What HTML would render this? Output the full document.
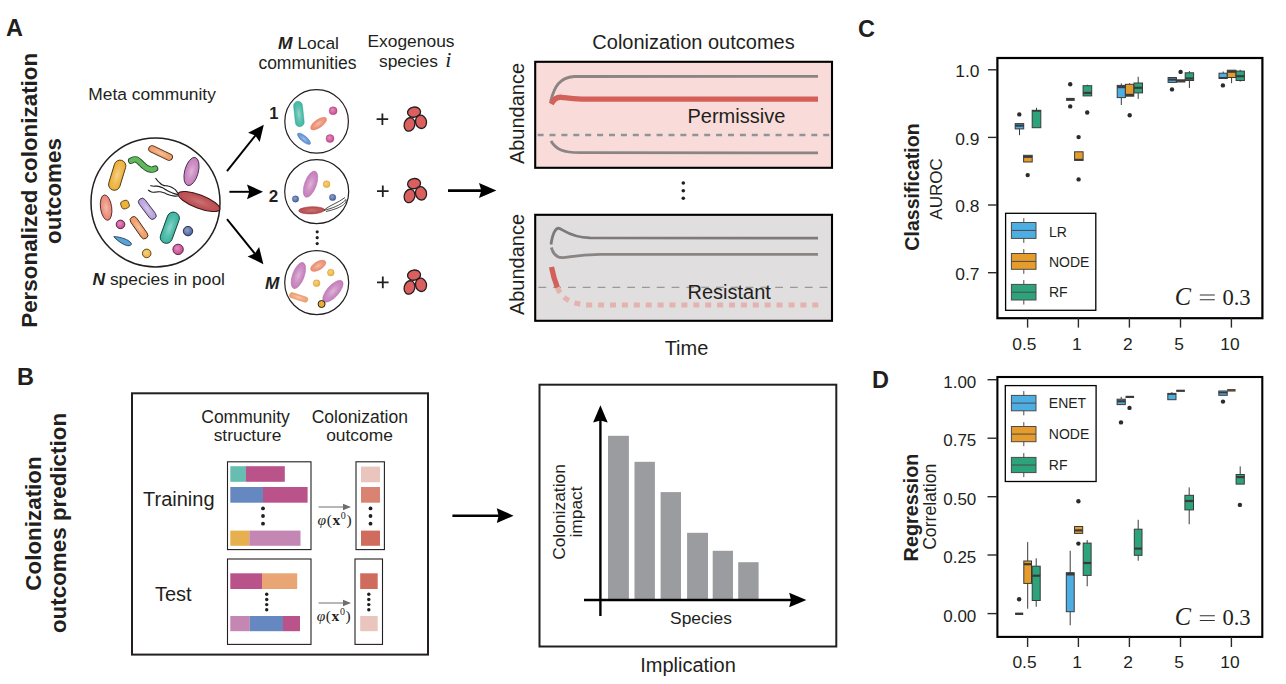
<!DOCTYPE html>
<html>
<head>
<meta charset="utf-8">
<title>Figure</title>
<style>
html,body{margin:0;padding:0;background:#fff;}
body{width:1286px;height:684px;overflow:hidden;font-family:"Liberation Sans",sans-serif;}
svg{display:block;}
text{font-family:"Liberation Sans",sans-serif;fill:#231f20;}
.b{font-weight:bold;}
.bi{font-weight:bold;font-style:italic;}
.ser{font-family:"Liberation Serif",serif;}
.t20{font-size:20px;}
.t17{font-size:17.4px;}
</style>
</head>
<body>
<svg width="1286" height="684" viewBox="0 0 1286 684">
<defs>
  <radialGradient id="hl" cx="0.5" cy="0.5" r="0.5"><stop offset="0" stop-color="#fff" stop-opacity="0.85"/><stop offset="0.55" stop-color="#fff" stop-opacity="0.3"/><stop offset="1" stop-color="#fff" stop-opacity="0"/></radialGradient>
  <radialGradient id="hr" cx="0.42" cy="0.4" r="0.6"><stop offset="0" stop-color="#fff" stop-opacity="0.9"/><stop offset="1" stop-color="#fff" stop-opacity="0"/></radialGradient>
</defs>
<rect width="1286" height="684" fill="#fff"/>
<g id="labels">
<text x="6" y="36" class="b" font-size="23.5">A</text>
<text x="17" y="385" class="b" font-size="23.5">B</text>
<text x="858" y="36.8" class="b" font-size="23.5">C</text>
<text x="872" y="388" class="b" font-size="23.5">D</text>
<text transform="translate(37,190.3) rotate(-90)" text-anchor="middle" class="b" font-size="22.4">Personalized colonization</text>
<text transform="translate(61,191) rotate(-90)" text-anchor="middle" class="b" font-size="22.4">outcomes</text>
<text transform="translate(40.5,523.5) rotate(-90)" text-anchor="middle" class="b" font-size="22.4">Colonization</text>
<text transform="translate(66,523) rotate(-90)" text-anchor="middle" class="b" font-size="22.4">outcomes prediction</text>
</g>
<g id="panelA">
<text x="88.3" y="100" class="t17">Meta community</text>
<text x="92.5" y="284.8" class="t17"><tspan class="bi">N</tspan> species in pool</text>
<text x="308.5" y="49" text-anchor="middle" class="t17"><tspan class="bi">M</tspan> Local</text>
<text x="307.5" y="69" text-anchor="middle" font-size="17.5">communities</text>
<text x="411" y="47" text-anchor="middle" class="t17">Exogenous</text>
<text x="379" y="67" class="t17">species <tspan class="ser" font-style="italic" font-size="22" dx="2.5">i</tspan></text>
<circle cx="155.5" cy="202.4" r="64.5" fill="#fff" stroke="#231f20" stroke-width="1.5"/>
<g transform="translate(160.6,153) rotate(25.5)"><rect x="-12.80" y="-3.30" width="25.60" height="6.60" rx="3.30" fill="#ef9a63"/><rect x="-12.80" y="-3.30" width="25.60" height="6.60" rx="3.30" fill="url(#hl)" opacity="0.5"/><rect x="-12.80" y="-3.30" width="25.60" height="6.60" rx="3.30" fill="none" stroke="#4a2d1c" stroke-width="0.9"/></g>
<path d="M131.2,160.7 C131.6,160.5 132.7,159.7 133.6,159.5 C134.5,159.3 135.5,159.3 136.4,159.6 C137.3,159.9 138.1,160.7 139.0,161.4 C139.9,162.1 140.8,163.1 141.7,163.9 C142.6,164.7 143.4,165.6 144.3,166.3 C145.2,167.0 146.0,167.6 146.9,168.1 C147.8,168.6 148.7,169.1 149.6,169.3 C150.5,169.6 151.4,169.7 152.3,169.6 C153.2,169.5 154.6,168.8 155.1,168.6" fill="none" stroke="#20472a" stroke-width="6.4" stroke-linecap="round"/><path d="M131.2,160.7 C131.6,160.5 132.7,159.7 133.6,159.5 C134.5,159.3 135.5,159.3 136.4,159.6 C137.3,159.9 138.1,160.7 139.0,161.4 C139.9,162.1 140.8,163.1 141.7,163.9 C142.6,164.7 143.4,165.6 144.3,166.3 C145.2,167.0 146.0,167.6 146.9,168.1 C147.8,168.6 148.7,169.1 149.6,169.3 C150.5,169.6 151.4,169.7 152.3,169.6 C153.2,169.5 154.6,168.8 155.1,168.6" fill="none" stroke="#62b75c" stroke-width="4.7" stroke-linecap="round"/>
<g transform="translate(117.2,175.2) rotate(-73)"><rect x="-15.50" y="-5.80" width="31.00" height="11.60" rx="5.80" fill="#eeb13a"/><rect x="-15.50" y="-5.80" width="31.00" height="11.60" rx="5.80" fill="url(#hl)" opacity="0.5"/><rect x="-15.50" y="-5.80" width="31.00" height="11.60" rx="5.80" fill="none" stroke="#4d3a14" stroke-width="0.9"/></g>
<g transform="translate(191.5,171.5) rotate(-75)"><ellipse rx="14.50" ry="6.80" fill="#c57dbb"/><ellipse rx="14.50" ry="6.80" fill="url(#hl)" opacity="0.5"/><ellipse rx="14.50" ry="6.80" fill="none" stroke="#47304a" stroke-width="0.9"/></g>
<g transform="translate(106.1,207.6) rotate(82)"><ellipse rx="12.80" ry="5.60" fill="#ea8673"/><ellipse rx="12.80" ry="5.60" fill="url(#hl)" opacity="0.5"/><ellipse rx="12.80" ry="5.60" fill="none" stroke="#4f2a24" stroke-width="0.9"/></g>
<g transform="translate(125,204.6) rotate(-22)"><rect x="-4" y="-4" width="8" height="8" rx="2.6" fill="#eeb13a" stroke="#4d3a14" stroke-width="0.8"/></g>
<g transform="translate(147.3,208.8) rotate(53)"><rect x="-12.25" y="-3.70" width="24.50" height="7.40" rx="3.70" fill="#b9a1d9"/><rect x="-12.25" y="-3.70" width="24.50" height="7.40" rx="3.70" fill="url(#hl)" opacity="0.5"/><rect x="-12.25" y="-3.70" width="24.50" height="7.40" rx="3.70" fill="none" stroke="#3f3756" stroke-width="0.9"/></g>
<g fill="none" stroke="#231f20" stroke-width="1.1"><path d="M155.5,178.2 C155.8,178.6 156.9,180.0 157.6,180.8 C158.3,181.6 159.2,182.3 159.9,183.0 C160.6,183.7 161.3,184.4 162.0,184.8 C162.7,185.2 163.5,185.4 164.3,185.6 C165.1,185.8 166.1,185.8 167.0,185.9 C167.9,186.1 168.7,186.2 169.6,186.5 C170.5,186.8 171.6,187.3 172.5,187.8 C173.4,188.3 174.0,188.4 175.0,189.4 C176.0,190.4 177.9,193.2 178.5,194.0"/><path d="M150.3,185.6 C150.8,185.7 152.3,186.1 153.3,186.2 C154.3,186.3 155.4,186.0 156.4,186.1 C157.4,186.2 158.5,186.3 159.5,186.6 C160.5,186.9 161.4,187.3 162.5,187.8 C163.6,188.3 164.8,189.1 166.0,189.8 C167.2,190.5 168.5,191.3 169.6,191.8 C170.7,192.3 171.5,192.7 172.4,193.0 C173.3,193.3 174.0,193.6 175.0,193.9 C176.0,194.2 177.9,194.8 178.5,195.0"/><path d="M148.1,190.0 C148.5,190.2 149.6,191.1 150.4,191.5 C151.2,191.9 151.9,192.1 152.9,192.2 C153.9,192.3 155.2,192.1 156.4,192.0 C157.6,191.9 158.6,191.7 159.9,191.8 C161.2,191.9 162.7,192.4 164.0,192.8 C165.3,193.2 166.6,194.0 167.8,194.4 C169.1,194.8 170.3,195.2 171.5,195.5 C172.7,195.8 173.8,196.0 175.0,196.1 C176.2,196.2 177.9,196.0 178.5,196.0"/></g>
<g transform="translate(199,201.5) rotate(21)"><ellipse rx="22.20" ry="6.60" fill="#bb4c4f"/><ellipse rx="22.20" ry="6.60" fill="url(#hl)" opacity="0.25"/><ellipse rx="22.20" ry="6.60" fill="none" stroke="#3e1517" stroke-width="1.0"/></g>
<circle cx="120.5" cy="224.4" r="4.3" fill="#c9468f"/><circle cx="120.5" cy="224.4" r="4.3" fill="url(#hr)" opacity="0.45"/><circle cx="120.5" cy="224.4" r="4.3" fill="none" stroke="#4a1a36" stroke-width="0.9"/>
<g transform="translate(139,227.7) rotate(55)"><rect x="-12.75" y="-3.60" width="25.50" height="7.20" rx="3.60" fill="#ef9a63"/><rect x="-12.75" y="-3.60" width="25.50" height="7.20" rx="3.60" fill="url(#hl)" opacity="0.5"/><rect x="-12.75" y="-3.60" width="25.50" height="7.20" rx="3.60" fill="none" stroke="#4a2d1c" stroke-width="0.9"/></g>
<g transform="translate(169.8,227.7) rotate(-70)"><rect x="-16.25" y="-6.10" width="32.50" height="12.20" rx="6.10" fill="#3db6a1"/><rect x="-16.25" y="-6.10" width="32.50" height="12.20" rx="6.10" fill="url(#hl)" opacity="0.5"/><rect x="-16.25" y="-6.10" width="32.50" height="12.20" rx="6.10" fill="none" stroke="#143f38" stroke-width="0.9"/></g>
<circle cx="188" cy="231.1" r="4.7" fill="#46609f"/><circle cx="188" cy="231.1" r="4.7" fill="url(#hr)" opacity="0.45"/><circle cx="188" cy="231.1" r="4.7" fill="none" stroke="#1b2540" stroke-width="0.9"/>
<g transform="translate(122.5,240.9) rotate(19)"><path d="M-9.6,-1.2 C-4,-3.2 6,-3.4 9,-0.6 C10.5,1.2 8,3.2 4,3 C-1,2.6 -6,1 -9.6,-1.2 Z" fill="#5aa2da" stroke="#1e3a52" stroke-width="0.8"/></g>
<circle cx="178.1" cy="249.4" r="5.2" fill="#c9468f"/><circle cx="178.1" cy="249.4" r="5.2" fill="url(#hr)" opacity="0.45"/><circle cx="178.1" cy="249.4" r="5.2" fill="none" stroke="#4a1a36" stroke-width="0.9"/>
<circle cx="146.7" cy="253.4" r="4.3" fill="#eeb13a"/><circle cx="146.7" cy="253.4" r="4.3" fill="url(#hr)" opacity="0.45"/><circle cx="146.7" cy="253.4" r="4.3" fill="none" stroke="#4d3a14" stroke-width="0.9"/>
<line x1="227.0" y1="171.2" x2="255.9" y2="134.8" stroke="#000" stroke-width="1.95"/><path d="M263.8,124.8 L259.7,141.9 L255.3,135.5 L248.1,132.7 Z" fill="#000"/>
<line x1="229.4" y1="191.8" x2="250.3" y2="191.8" stroke="#000" stroke-width="1.95"/><path d="M263.0,191.8 L247.0,199.2 L249.3,191.8 L247.0,184.4 Z" fill="#000"/>
<line x1="227.0" y1="219.2" x2="255.4" y2="254.3" stroke="#000" stroke-width="1.95"/><path d="M263.4,264.2 L247.6,256.4 L254.8,253.5 L259.1,247.1 Z" fill="#000"/>
<text x="269.3" y="118.6" class="b" font-size="16.5">1</text>
<text x="268.8" y="201.8" class="b" font-size="17">2</text>
<text x="265" y="289.3" class="bi" font-size="17.2">M</text>
<circle cx="316.6" cy="121.4" r="31.8" fill="#fff" stroke="#231f20" stroke-width="1.2"/>
<g transform="translate(298.9,114) rotate(84)"><rect x="-12.80" y="-4.45" width="25.60" height="8.90" rx="4.45" fill="#45b8a5"/><rect x="-12.80" y="-4.45" width="25.60" height="8.90" rx="4.45" fill="url(#hl)" opacity="0.5"/><rect x="-12.80" y="-4.45" width="25.60" height="8.90" rx="4.45" fill="none" stroke="#2b9a87" stroke-width="0.4"/></g>
<g transform="translate(318.6,123.6) rotate(-35)"><ellipse rx="9.40" ry="4.00" fill="#ee8a6c"/><ellipse rx="9.40" ry="4.00" fill="url(#hl)" opacity="0.5"/><ellipse rx="9.40" ry="4.00" fill="none" stroke="#d2735a" stroke-width="0.4"/></g>
<g transform="translate(304,138.8) rotate(40)"><ellipse rx="8.20" ry="2.90" fill="#5b8fd4"/><ellipse rx="8.20" ry="2.90" fill="url(#hl)" opacity="0.5"/><ellipse rx="8.20" ry="2.90" fill="none" stroke="#4274b5" stroke-width="0.4"/></g>
<circle cx="333.1" cy="110.8" r="4" fill="#c9468f"/><circle cx="333.1" cy="110.8" r="4" fill="url(#hr)" opacity="0.45"/><circle cx="333.1" cy="110.8" r="4" fill="none" stroke="#a53a78" stroke-width="0.4"/>
<circle cx="330" cy="138.6" r="4" fill="#c9468f"/><circle cx="330" cy="138.6" r="4" fill="url(#hr)" opacity="0.45"/><circle cx="330" cy="138.6" r="4" fill="none" stroke="#a53a78" stroke-width="0.4"/>
<circle cx="316.7" cy="191.6" r="32" fill="#fff" stroke="#231f20" stroke-width="1.2"/>
<g transform="translate(310.5,184.2) rotate(-70)"><ellipse rx="13.80" ry="5.90" fill="#c57dbb"/><ellipse rx="13.80" ry="5.90" fill="url(#hl)" opacity="0.5"/><ellipse rx="13.80" ry="5.90" fill="none" stroke="#a865a3" stroke-width="0.4"/></g>
<circle cx="326.6" cy="184.2" r="3.4" fill="#eeb13a"/><circle cx="326.6" cy="184.2" r="3.4" fill="url(#hr)" opacity="0.45"/><circle cx="326.6" cy="184.2" r="3.4" fill="none" stroke="#c9962a" stroke-width="0.4"/>
<circle cx="295.5" cy="199" r="3.2" fill="#46609f"/><circle cx="295.5" cy="199" r="3.2" fill="url(#hr)" opacity="0.45"/><circle cx="295.5" cy="199" r="3.2" fill="none" stroke="#3a5190" stroke-width="0.4"/>
<circle cx="332.6" cy="197.4" r="3.2" fill="#46609f"/><circle cx="332.6" cy="197.4" r="3.2" fill="url(#hr)" opacity="0.45"/><circle cx="332.6" cy="197.4" r="3.2" fill="none" stroke="#3a5190" stroke-width="0.4"/>
<g transform="translate(311.6,210.3) rotate(-2)"><ellipse rx="12.90" ry="3.60" fill="#bb4c4f"/><ellipse rx="12.90" ry="3.60" fill="url(#hl)" opacity="0.25"/><ellipse rx="12.90" ry="3.60" fill="none" stroke="#8e3534" stroke-width="0.5"/></g>
<g fill="none" stroke="#231f20" stroke-width="0.8">
<path d="M324,210 C330,205 338,203 345,197.5"/>
<path d="M324,210.5 C332,208 340,206 346,199.5 C347,203 342,208 326,211.5"/>
</g>
<g fill="#231f20"><circle cx="317.2" cy="231.8" r="1.6"/><circle cx="317.2" cy="237.7" r="1.6"/><circle cx="317.2" cy="243.6" r="1.6"/></g>
<circle cx="316.7" cy="282.6" r="32" fill="#fff" stroke="#231f20" stroke-width="1.2"/>
<g transform="translate(298.4,275.5) rotate(-70)"><ellipse rx="13.80" ry="5.90" fill="#c57dbb"/><ellipse rx="13.80" ry="5.90" fill="url(#hl)" opacity="0.5"/><ellipse rx="13.80" ry="5.90" fill="none" stroke="#a865a3" stroke-width="0.4"/></g>
<g transform="translate(318.2,265.8) rotate(-30)"><ellipse rx="8.50" ry="4.20" fill="#ee8a6c"/><ellipse rx="8.50" ry="4.20" fill="url(#hl)" opacity="0.5"/><ellipse rx="8.50" ry="4.20" fill="none" stroke="#d2735a" stroke-width="0.4"/></g>
<circle cx="330.8" cy="272.6" r="3.4" fill="#eeb13a"/><circle cx="330.8" cy="272.6" r="3.4" fill="url(#hr)" opacity="0.45"/><circle cx="330.8" cy="272.6" r="3.4" fill="none" stroke="#c9962a" stroke-width="0.4"/>
<circle cx="316.6" cy="283.2" r="3.4" fill="#eeb13a"/><circle cx="316.6" cy="283.2" r="3.4" fill="url(#hr)" opacity="0.45"/><circle cx="316.6" cy="283.2" r="3.4" fill="none" stroke="#c9962a" stroke-width="0.4"/>
<g transform="translate(332.9,291.3) rotate(-48)"><ellipse rx="13.80" ry="5.90" fill="#c57dbb"/><ellipse rx="13.80" ry="5.90" fill="url(#hl)" opacity="0.5"/><ellipse rx="13.80" ry="5.90" fill="none" stroke="#a865a3" stroke-width="0.4"/></g>
<g transform="translate(298.7,297.4) rotate(18)"><rect x="-9.50" y="-2.70" width="19.00" height="5.40" rx="2.70" fill="#f2a06e"/><rect x="-9.50" y="-2.70" width="19.00" height="5.40" rx="2.70" fill="url(#hl)" opacity="0.5"/><rect x="-9.50" y="-2.70" width="19.00" height="5.40" rx="2.70" fill="none" stroke="#d2855a" stroke-width="0.4"/></g>
<circle cx="321.6" cy="304" r="3.5" fill="#eab02f" stroke="#231f20" stroke-width="1"/>
<g stroke="#231f20" stroke-width="1.8">
<path d="M376.6,119.2 h11.6 M382.4,113.4 v11.6"/>
<path d="M377,191.2 h11.6 M382.8,185.4 v11.6"/>
<path d="M377,282.4 h11.6 M382.8,276.6 v11.6"/>
</g>
<g id="exo" fill="#da5f5e" stroke="#231f20" stroke-width="1.3">
<ellipse cx="414.1" cy="112.1" rx="6.5" ry="5.1" transform="rotate(-8 414.3 112.4)"/>
<ellipse cx="409.6" cy="124.6" rx="5.3" ry="6.8" transform="rotate(15 410 124.2)"/>
<ellipse cx="421" cy="121.9" rx="5.5" ry="6.7" transform="rotate(-12 420.8 121.8)"/>
</g>
<use href="#exo" y="71.5"/>
<use href="#exo" y="163"/>

<line x1="448.0" y1="190.6" x2="482.3" y2="190.6" stroke="#000" stroke-width="2.8"/><path d="M496.4,190.6 L479.0,198.1 L481.3,190.6 L479.0,183.1 Z" fill="#000"/>
</g>
<g id="outcomes">
<text x="693.5" y="48.5" text-anchor="middle" class="t20">Colonization outcomes</text>
<text transform="translate(524,113.5) rotate(-90)" text-anchor="middle" class="t20">Abundance</text>
<text transform="translate(524,264.5) rotate(-90)" text-anchor="middle" class="t20">Abundance</text>
<text x="686.5" y="354.5" text-anchor="middle" class="t20">Time</text>

<!-- permissive -->
<rect x="535.2" y="61.8" width="296.8" height="106" fill="#f9dcda" stroke="#000" stroke-width="2.1"/>
<line x1="537.6" y1="135" x2="831" y2="135" stroke="#8f9596" stroke-width="2.4" stroke-dasharray="6,5.9"/>
<path d="M550.6,101.5 C554.5,86 560,77.4 574,76.5 L818,76.3" fill="none" stroke="#8a8583" stroke-width="2.8"/>
<path d="M551,141 C556,149.5 563,152.4 580,152.7 L818,152.8" fill="none" stroke="#8a8583" stroke-width="2.8"/>
<path d="M551.2,104 C553.5,99.5 557,96.6 562,97.3 S572,99 582,99.1 L818,99.1" fill="none" stroke="#d4605a" stroke-width="5.4"/>
<text x="687.5" y="122.5" class="t20">Permissive</text>

<g fill="#231f20"><circle cx="683.3" cy="183" r="1.8"/><circle cx="683.3" cy="190.7" r="1.8"/><circle cx="683.3" cy="198.3" r="1.8"/></g>

<!-- resistant -->
<rect x="535.2" y="214.8" width="296.8" height="106" fill="#e0dedf" stroke="#000" stroke-width="2.1"/>
<line x1="538.4" y1="287.4" x2="831" y2="287.4" stroke="#999" stroke-width="1.2" stroke-dasharray="7.8,7"/>
<path d="M551,244.5 C552.5,234 555.5,227.6 559,228.3 S570,237.4 590,237.9 L818,238.1" fill="none" stroke="#7f7a79" stroke-width="2.8"/>
<path d="M551.3,247.5 C553,253.5 557,258 563,257.6 S578,254.4 600,254.3 L818,254.3" fill="none" stroke="#8a8583" stroke-width="2.8"/>
<path d="M551.5,267 C553,275 554.8,281 557.4,287.5" fill="none" stroke="#d4605a" stroke-width="5.3"/>
<path d="M818.3,305 L590,305 C571,304.6 561.5,298 557.4,287.5" fill="none" stroke="#e3b3ad" stroke-width="5.2" stroke-dasharray="6,5.9"/>
<text x="687.5" y="299" class="t20">Resistant</text>
</g>
<g id="panelB">
<rect x="132" y="393.3" width="296" height="261.3" fill="#fff" stroke="#231f20" stroke-width="2"/>
<text x="245.5" y="423" text-anchor="middle" font-size="17.5">Community</text>
<text x="247.5" y="441" text-anchor="middle" class="t17">structure</text>
<text x="359.8" y="423" text-anchor="middle" font-size="17.5">Colonization</text>
<text x="359.5" y="441" text-anchor="middle" class="t17">outcome</text>
<text x="143" y="506" class="t20">Training</text>
<text x="154.9" y="601" class="t20">Test</text>

<!-- training box -->
<rect x="227.5" y="461.8" width="83.5" height="87.8" fill="#fff" stroke="#231f20" stroke-width="1.1"/>
<rect x="230.3" y="466.2" width="15.7" height="15.6" fill="#66bdb0"/>
<rect x="246" y="466.2" width="38.8" height="15.6" fill="#b9538a"/>
<rect x="230.3" y="487" width="32.7" height="15.7" fill="#6488bf"/>
<rect x="263" y="487" width="44.6" height="15.7" fill="#b9538a"/>
<g fill="#231f20"><circle cx="263" cy="508.4" r="1.9"/><circle cx="263" cy="516" r="1.9"/><circle cx="263" cy="523.7" r="1.9"/></g>
<rect x="230.3" y="530.6" width="19" height="15.2" fill="#e6b04e"/>
<rect x="249.3" y="530.6" width="51.2" height="15.2" fill="#c487b3"/>
<!-- training outcome -->
<rect x="356" y="461.8" width="28.4" height="87.8" fill="#fff" stroke="#231f20" stroke-width="1.1"/>
<rect x="361" y="466.6" width="19" height="15.7" fill="#e9c5be"/>
<rect x="361" y="487" width="19" height="15.7" fill="#d98373"/>
<g fill="#231f20"><circle cx="370.5" cy="508.4" r="1.9"/><circle cx="370.5" cy="516" r="1.9"/><circle cx="370.5" cy="523.7" r="1.9"/></g>
<rect x="361" y="530.6" width="19" height="15.2" fill="#cf6c5e"/>
<!-- arrows phi -->
<g stroke="#6d6e70" stroke-width="1" fill="#6d6e70">
<line x1="318.5" y1="507" x2="345" y2="507"/><path d="M351,507 L343,503.8 L343,510.2 Z" stroke="none"/>
<line x1="318.5" y1="603" x2="345" y2="603"/><path d="M351,603 L343,599.8 L343,606.2 Z" stroke="none"/>
</g>
<text x="334.8" y="525.4" text-anchor="middle" class="ser" font-size="15.5" letter-spacing="0.6" fill="#555"><tspan font-style="italic">φ</tspan>(<tspan font-weight="bold">x</tspan><tspan font-size="10" dy="-6">0</tspan><tspan dy="6">)</tspan></text>
<text x="334" y="621.4" text-anchor="middle" class="ser" font-size="15.5" letter-spacing="0.6" fill="#555"><tspan font-style="italic">φ</tspan>(<tspan font-weight="bold">x</tspan><tspan font-size="10" dy="-6">0</tspan><tspan dy="6">)</tspan></text>
<!-- test box -->
<rect x="227.5" y="559" width="83.5" height="85.4" fill="#fff" stroke="#231f20" stroke-width="1.1"/>
<rect x="230.3" y="573.3" width="31.7" height="15.7" fill="#b9538a"/>
<rect x="262" y="573.3" width="35.2" height="15.7" fill="#e9a574"/>
<g fill="#231f20"><circle cx="266.7" cy="594.3" r="1.7"/><circle cx="266.7" cy="599.5" r="1.7"/><circle cx="266.7" cy="604.6" r="1.7"/><circle cx="266.7" cy="609.8" r="1.7"/></g>
<rect x="230.3" y="616" width="19.5" height="15.2" fill="#c487b3"/>
<rect x="249.8" y="616" width="33.2" height="15.2" fill="#6488bf"/>
<rect x="283" y="616" width="17" height="15.2" fill="#b9538a"/>
<!-- test outcome -->
<rect x="355" y="559" width="27.5" height="85.4" fill="#fff" stroke="#231f20" stroke-width="1.1"/>
<rect x="360.2" y="573.3" width="17.5" height="15.7" fill="#cf6c5e"/>
<g fill="#231f20"><circle cx="368.8" cy="594.3" r="1.7"/><circle cx="368.8" cy="599.5" r="1.7"/><circle cx="368.8" cy="604.6" r="1.7"/><circle cx="368.8" cy="609.8" r="1.7"/></g>
<rect x="360.2" y="616" width="17.5" height="15.2" fill="#e9c5be"/>

<!-- big arrow -->

<!-- implication -->
<rect x="539.5" y="384.7" width="296.8" height="261.8" fill="#fff" stroke="#231f20" stroke-width="2"/>
<g fill="#9b9c9f">
<rect x="608" y="435.8" width="20.9" height="164.2"/>
<rect x="634.5" y="461.8" width="20.4" height="138.2"/>
<rect x="660.6" y="492.1" width="20.4" height="107.9"/>
<rect x="687.1" y="532.8" width="20.9" height="67.2"/>
<rect x="712.7" y="550.8" width="20.3" height="49.2"/>
<rect x="738.2" y="562.2" width="20.4" height="37.8"/>
</g>
<text x="701" y="623.5" text-anchor="middle" class="t17">Species</text>
<text transform="translate(564.8,512) rotate(-90)" text-anchor="middle" class="t17">Colonization</text>
<text transform="translate(582,512) rotate(-90)" text-anchor="middle" class="t17">impact</text>
<text x="688" y="672" text-anchor="middle" class="t20">Implication</text>
</g>
<g id="arrows">
<line x1="452.4" y1="515.7" x2="499.6" y2="515.7" stroke="#000" stroke-width="2.6"/><path d="M513.6,515.7 L496.8,523.1 L498.6,515.7 L496.8,508.3 Z" fill="#000"/>
<line x1="600.4" y1="616.0" x2="600.4" y2="419.6" stroke="#000" stroke-width="2.4"/><path d="M600.4,405.2 L607.7,422.4 L600.4,420.6 L593.1,422.4 Z" fill="#000"/>
<line x1="584.0" y1="600.0" x2="792.0" y2="600.0" stroke="#000" stroke-width="2.4"/><path d="M806.4,600.0 L789.2,607.3 L791.0,600.0 L789.2,592.7 Z" fill="#000"/>
</g>
<g id="panelC">
<rect x="997.4" y="58" width="265" height="260.2" fill="#fff" stroke="#000" stroke-width="2.2"/>
<line x1="988" y1="69.8" x2="997" y2="69.8" stroke="#2a2a2a" stroke-width="1.4"/><text x="979.5" y="77.1" text-anchor="end" class="t17" fill="#000">1.0</text>
<line x1="988" y1="137.4" x2="997" y2="137.4" stroke="#2a2a2a" stroke-width="1.4"/><text x="979.5" y="144.7" text-anchor="end" class="t17" fill="#000">0.9</text>
<line x1="988" y1="205" x2="997" y2="205" stroke="#2a2a2a" stroke-width="1.4"/><text x="979.5" y="212.3" text-anchor="end" class="t17" fill="#000">0.8</text>
<line x1="988" y1="272.7" x2="997" y2="272.7" stroke="#2a2a2a" stroke-width="1.4"/><text x="979.5" y="280.0" text-anchor="end" class="t17" fill="#000">0.7</text>
<line x1="1027.6" y1="318" x2="1027.6" y2="327.6" stroke="#2a2a2a" stroke-width="1.4"/><text x="1024.4" y="349.6" text-anchor="middle" class="t17" fill="#000">0.5</text>
<line x1="1078.4" y1="318" x2="1078.4" y2="327.6" stroke="#2a2a2a" stroke-width="1.4"/><text x="1076.9" y="349.6" text-anchor="middle" class="t17" fill="#000">1</text>
<line x1="1129.4" y1="318" x2="1129.4" y2="327.6" stroke="#2a2a2a" stroke-width="1.4"/><text x="1127.9" y="349.6" text-anchor="middle" class="t17" fill="#000">2</text>
<line x1="1180.5" y1="318" x2="1180.5" y2="327.6" stroke="#2a2a2a" stroke-width="1.4"/><text x="1179.0" y="349.6" text-anchor="middle" class="t17" fill="#000">5</text>
<line x1="1231.4" y1="318" x2="1231.4" y2="327.6" stroke="#2a2a2a" stroke-width="1.4"/><text x="1229.9" y="349.6" text-anchor="middle" class="t17" fill="#000">10</text>
<text transform="translate(918.8,187) rotate(-90)" text-anchor="middle" class="b" font-size="19.6">Classification</text>
<text transform="translate(942,189) rotate(-90)" text-anchor="middle" font-size="17">AUROC</text>
<line x1="1019.5" y1="128.9" x2="1019.5" y2="135.2" stroke="#3a3a3a" stroke-width="1"/><rect x="1015.2" y="123.6" width="8.5" height="5.3" fill="#4daee3" stroke="#3a3a3a" stroke-width="1"/><line x1="1015.2" y1="125.6" x2="1023.7" y2="125.6" stroke="#3a3a3a" stroke-width="2.2"/>
<circle cx="1019.3" cy="114.4" r="2.2" fill="#2b2b2b"/>
<rect x="1023.6" y="155.3" width="8.6" height="6.7" fill="#e59c2c" stroke="#3a3a3a" stroke-width="1"/><line x1="1023.6" y1="156.8" x2="1032.2" y2="156.8" stroke="#3a3a3a" stroke-width="2.2"/>
<circle cx="1027.7" cy="175.1" r="2.2" fill="#2b2b2b"/>
<line x1="1036.5" y1="110.3" x2="1036.5" y2="107.8" stroke="#3a3a3a" stroke-width="1"/><rect x="1032.2" y="110.3" width="8.6" height="17.4" fill="#2ca37b" stroke="#3a3a3a" stroke-width="1"/><line x1="1032.2" y1="110.9" x2="1040.8" y2="110.9" stroke="#3a3a3a" stroke-width="1.6"/>
<line x1="1066.1" y1="99.4" x2="1074.7" y2="99.4" stroke="#3a3a3a" stroke-width="3"/>
<circle cx="1070.2" cy="84.3" r="2.2" fill="#2b2b2b"/>
<circle cx="1070.2" cy="106.4" r="2.2" fill="#2b2b2b"/>
<rect x="1074.6" y="151.8" width="8.5" height="8.6" fill="#e59c2c" stroke="#3a3a3a" stroke-width="1"/><line x1="1074.6" y1="159.6" x2="1083.1" y2="159.6" stroke="#3a3a3a" stroke-width="1.6"/>
<circle cx="1078.6" cy="137.1" r="2.2" fill="#2b2b2b"/>
<circle cx="1078.6" cy="179.4" r="2.2" fill="#2b2b2b"/>
<line x1="1087.4" y1="85.7" x2="1087.4" y2="84.7" stroke="#3a3a3a" stroke-width="1"/><rect x="1083.1" y="85.7" width="8.6" height="10.2" fill="#2ca37b" stroke="#3a3a3a" stroke-width="1"/><line x1="1083.1" y1="92.9" x2="1091.7" y2="92.9" stroke="#3a3a3a" stroke-width="2.2"/>
<circle cx="1087.2" cy="112.5" r="2.2" fill="#2b2b2b"/>
<line x1="1121.3" y1="85.4" x2="1121.3" y2="83.4" stroke="#3a3a3a" stroke-width="1"/><line x1="1121.3" y1="97.6" x2="1121.3" y2="105.0" stroke="#3a3a3a" stroke-width="1"/><rect x="1117.2" y="85.4" width="8.2" height="12.2" fill="#4daee3" stroke="#3a3a3a" stroke-width="1"/><line x1="1117.2" y1="87.1" x2="1125.4" y2="87.1" stroke="#3a3a3a" stroke-width="2.2"/>
<line x1="1129.6" y1="84.3" x2="1129.6" y2="83.2" stroke="#3a3a3a" stroke-width="1"/><rect x="1125.4" y="84.3" width="8.4" height="11.9" fill="#e59c2c" stroke="#3a3a3a" stroke-width="1"/><line x1="1125.4" y1="94.9" x2="1133.8" y2="94.9" stroke="#3a3a3a" stroke-width="2.2"/>
<line x1="1138.2" y1="83.0" x2="1138.2" y2="76.8" stroke="#3a3a3a" stroke-width="1"/><line x1="1138.2" y1="92.9" x2="1138.2" y2="98.9" stroke="#3a3a3a" stroke-width="1"/><rect x="1134.0" y="83.0" width="8.5" height="9.9" fill="#2ca37b" stroke="#3a3a3a" stroke-width="1"/><line x1="1134.0" y1="87.8" x2="1142.5" y2="87.8" stroke="#3a3a3a" stroke-width="2.2"/>
<circle cx="1129.7" cy="115.3" r="2.2" fill="#2b2b2b"/>
<rect x="1168.1" y="77.5" width="8.3" height="4.9" fill="#4daee3" stroke="#3a3a3a" stroke-width="1"/><line x1="1168.1" y1="79.6" x2="1176.4" y2="79.6" stroke="#3a3a3a" stroke-width="2.2"/>
<circle cx="1172.0" cy="89.4" r="2.2" fill="#2b2b2b"/>
<rect x="1176.4" y="79.8" width="8.5" height="2.2" fill="#e59c2c" stroke="#3a3a3a" stroke-width="1"/><line x1="1176.4" y1="80.9" x2="1184.9" y2="80.9" stroke="#3a3a3a" stroke-width="1.8"/>
<circle cx="1180.6" cy="71.9" r="2.2" fill="#2b2b2b"/>
<line x1="1189.4" y1="72.8" x2="1189.4" y2="71.1" stroke="#3a3a3a" stroke-width="1"/><line x1="1189.4" y1="80.5" x2="1189.4" y2="88.0" stroke="#3a3a3a" stroke-width="1"/><rect x="1185.2" y="72.8" width="8.4" height="7.7" fill="#2ca37b" stroke="#3a3a3a" stroke-width="1"/><line x1="1185.2" y1="78.5" x2="1193.6" y2="78.5" stroke="#3a3a3a" stroke-width="2.2"/>
<line x1="1223.2" y1="73.2" x2="1223.2" y2="71.5" stroke="#3a3a3a" stroke-width="1"/><rect x="1219.0" y="73.2" width="8.3" height="5.3" fill="#4daee3" stroke="#3a3a3a" stroke-width="1"/><line x1="1219.0" y1="77.7" x2="1227.3" y2="77.7" stroke="#3a3a3a" stroke-width="1.4"/>
<circle cx="1222.9" cy="85.4" r="2.2" fill="#2b2b2b"/>
<line x1="1231.6" y1="77.5" x2="1231.6" y2="83.2" stroke="#3a3a3a" stroke-width="1"/><rect x="1227.3" y="70.2" width="8.6" height="7.3" fill="#e59c2c" stroke="#3a3a3a" stroke-width="1"/><line x1="1227.3" y1="71.6" x2="1235.9" y2="71.6" stroke="#3a3a3a" stroke-width="2.4"/>
<line x1="1240.2" y1="71.1" x2="1240.2" y2="69.8" stroke="#3a3a3a" stroke-width="1"/><line x1="1240.2" y1="80.5" x2="1240.2" y2="81.6" stroke="#3a3a3a" stroke-width="1"/><rect x="1236.1" y="71.1" width="8.3" height="9.4" fill="#2ca37b" stroke="#3a3a3a" stroke-width="1"/><line x1="1236.1" y1="76.2" x2="1244.4" y2="76.2" stroke="#3a3a3a" stroke-width="2.2"/>
<rect x="1005.6" y="213.3" width="90.2" height="97.0" fill="#fff" stroke="#000" stroke-width="1.3"/>
<line x1="1023.8" y1="218.2" x2="1023.8" y2="242.9" stroke="#4a4a4a" stroke-width="1"/><rect x="1011.4" y="222.5" width="24.6" height="15.9" fill="#4daee3" stroke="#4a4a4a" stroke-width="1"/><line x1="1011.4" y1="230.4" x2="1036" y2="230.4" stroke="#4a4a4a" stroke-width="1"/><text x="1049" y="236.6" font-size="14">LR</text>
<line x1="1023.8" y1="249.2" x2="1023.8" y2="273.8" stroke="#4a4a4a" stroke-width="1"/><rect x="1011.4" y="253.5" width="24.6" height="15.8" fill="#e59c2c" stroke="#4a4a4a" stroke-width="1"/><line x1="1011.4" y1="261.4" x2="1036" y2="261.4" stroke="#4a4a4a" stroke-width="1"/><text x="1049" y="267.3" font-size="14">NODE</text>
<line x1="1023.8" y1="280.1" x2="1023.8" y2="304.5" stroke="#4a4a4a" stroke-width="1"/><rect x="1011.4" y="284.4" width="24.6" height="15.6" fill="#2ca37b" stroke="#4a4a4a" stroke-width="1"/><line x1="1011.4" y1="292.2" x2="1036" y2="292.2" stroke="#4a4a4a" stroke-width="1"/><text x="1049" y="297.2" font-size="14">RF</text>
<text x="1174.8" y="304.6" class="ser" font-style="italic" font-size="24.4" fill="#2a2a2a">C</text><path d="M1199.8,295.0 h15 M1199.8,299.8 h15" stroke="#333" stroke-width="1.1" fill="none"/><text x="1222.4" y="304.5" class="ser" font-size="22.6" fill="#2a2a2a">0.3</text>
</g>
<g id="panelD">
<rect x="997.4" y="377" width="264.9" height="259.9" fill="#fff" stroke="#000" stroke-width="2.1"/>
<line x1="987.5" y1="379.7" x2="997" y2="379.7" stroke="#2a2a2a" stroke-width="1.4"/><text x="976.3" y="387.7" text-anchor="end" font-size="17" fill="#000">1.00</text>
<line x1="987.5" y1="438.2" x2="997" y2="438.2" stroke="#2a2a2a" stroke-width="1.4"/><text x="976.3" y="446.2" text-anchor="end" font-size="17" fill="#000">0.75</text>
<line x1="987.5" y1="496.7" x2="997" y2="496.7" stroke="#2a2a2a" stroke-width="1.4"/><text x="976.3" y="504.7" text-anchor="end" font-size="17" fill="#000">0.50</text>
<line x1="987.5" y1="555" x2="997" y2="555" stroke="#2a2a2a" stroke-width="1.4"/><text x="976.3" y="563.0" text-anchor="end" font-size="17" fill="#000">0.25</text>
<line x1="987.5" y1="613.6" x2="997" y2="613.6" stroke="#2a2a2a" stroke-width="1.4"/><text x="976.3" y="621.6" text-anchor="end" font-size="17" fill="#000">0.00</text>
<line x1="1027.6" y1="637" x2="1027.6" y2="647" stroke="#2a2a2a" stroke-width="1.4"/><text x="1024.5" y="668" text-anchor="middle" class="t17" fill="#000">0.5</text>
<line x1="1078.4" y1="637" x2="1078.4" y2="647" stroke="#2a2a2a" stroke-width="1.4"/><text x="1077.0" y="668" text-anchor="middle" class="t17" fill="#000">1</text>
<line x1="1129.4" y1="637" x2="1129.4" y2="647" stroke="#2a2a2a" stroke-width="1.4"/><text x="1128.0" y="668" text-anchor="middle" class="t17" fill="#000">2</text>
<line x1="1180.5" y1="637" x2="1180.5" y2="647" stroke="#2a2a2a" stroke-width="1.4"/><text x="1179.1" y="668" text-anchor="middle" class="t17" fill="#000">5</text>
<line x1="1231.4" y1="637" x2="1231.4" y2="647" stroke="#2a2a2a" stroke-width="1.4"/><text x="1230.0" y="668" text-anchor="middle" class="t17" fill="#000">10</text>
<text transform="translate(917.8,507.5) rotate(-90)" text-anchor="middle" class="b" font-size="19.8">Regression</text>
<text transform="translate(936,506.8) rotate(-90)" text-anchor="middle" font-size="17.6">Correlation</text>
<line x1="1015.1" y1="613.8" x2="1023.2" y2="613.8" stroke="#3a3a3a" stroke-width="2.4"/>
<circle cx="1019.1" cy="599.3" r="2.2" fill="#2b2b2b"/>
<line x1="1027.7" y1="561.0" x2="1027.7" y2="542.1" stroke="#3a3a3a" stroke-width="1"/><line x1="1027.7" y1="583.4" x2="1027.7" y2="608.7" stroke="#3a3a3a" stroke-width="1"/><rect x="1023.8" y="561.0" width="7.7" height="22.4" fill="#e59c2c" stroke="#3a3a3a" stroke-width="1"/><line x1="1023.8" y1="564.2" x2="1031.5" y2="564.2" stroke="#3a3a3a" stroke-width="2.2"/>
<line x1="1036.2" y1="566.2" x2="1036.2" y2="558.3" stroke="#3a3a3a" stroke-width="1"/><line x1="1036.2" y1="600.5" x2="1036.2" y2="606.7" stroke="#3a3a3a" stroke-width="1"/><rect x="1032.2" y="566.2" width="8.0" height="34.3" fill="#2ca37b" stroke="#3a3a3a" stroke-width="1"/><line x1="1032.2" y1="575.7" x2="1040.2" y2="575.7" stroke="#3a3a3a" stroke-width="2.2"/>
<line x1="1070.2" y1="572.7" x2="1070.2" y2="550.8" stroke="#3a3a3a" stroke-width="1"/><line x1="1070.2" y1="611.7" x2="1070.2" y2="625.3" stroke="#3a3a3a" stroke-width="1"/><rect x="1066.3" y="572.7" width="7.9" height="39.0" fill="#4daee3" stroke="#3a3a3a" stroke-width="1"/><line x1="1066.3" y1="574.2" x2="1074.2" y2="574.2" stroke="#3a3a3a" stroke-width="2.6"/>
<rect x="1074.5" y="526.5" width="8.2" height="6.9" fill="#e59c2c" stroke="#3a3a3a" stroke-width="1"/><line x1="1074.5" y1="530.4" x2="1082.7" y2="530.4" stroke="#3a3a3a" stroke-width="2.2"/>
<circle cx="1078.4" cy="501.3" r="2.2" fill="#2b2b2b"/>
<circle cx="1078.4" cy="543.6" r="2.2" fill="#2b2b2b"/>
<line x1="1087.2" y1="543.1" x2="1087.2" y2="540.1" stroke="#3a3a3a" stroke-width="1"/><line x1="1087.2" y1="575.4" x2="1087.2" y2="586.3" stroke="#3a3a3a" stroke-width="1"/><rect x="1083.2" y="543.1" width="7.9" height="32.3" fill="#2ca37b" stroke="#3a3a3a" stroke-width="1"/><line x1="1083.2" y1="563.0" x2="1091.1" y2="563.0" stroke="#3a3a3a" stroke-width="2.2"/>
<line x1="1121.2" y1="399.2" x2="1121.2" y2="396.9" stroke="#3a3a3a" stroke-width="1"/><rect x="1117.1" y="399.2" width="8.2" height="5.4" fill="#4daee3" stroke="#3a3a3a" stroke-width="1"/><line x1="1117.1" y1="401.3" x2="1125.3" y2="401.3" stroke="#3a3a3a" stroke-width="2.2"/>
<circle cx="1121.0" cy="422.4" r="2.2" fill="#2b2b2b"/>
<line x1="1125.5" y1="396.9" x2="1134.1" y2="396.9" stroke="#3a3a3a" stroke-width="2.2"/>
<circle cx="1129.5" cy="407.9" r="2.2" fill="#2b2b2b"/>
<line x1="1138.2" y1="529.2" x2="1138.2" y2="519.8" stroke="#3a3a3a" stroke-width="1"/><line x1="1138.2" y1="555.3" x2="1138.2" y2="560.7" stroke="#3a3a3a" stroke-width="1"/><rect x="1134.3" y="529.2" width="7.7" height="26.1" fill="#2ca37b" stroke="#3a3a3a" stroke-width="1"/><line x1="1134.3" y1="548.6" x2="1142.0" y2="548.6" stroke="#3a3a3a" stroke-width="2.2"/>
<line x1="1171.9" y1="393.4" x2="1171.9" y2="392.2" stroke="#3a3a3a" stroke-width="1"/><rect x="1167.8" y="393.4" width="8.2" height="6.3" fill="#4daee3" stroke="#3a3a3a" stroke-width="1"/><line x1="1167.8" y1="394.2" x2="1176.0" y2="394.2" stroke="#3a3a3a" stroke-width="1.4"/>
<line x1="1176.2" y1="390.8" x2="1184.9" y2="390.8" stroke="#3a3a3a" stroke-width="2.2"/>
<line x1="1189.2" y1="495.3" x2="1189.2" y2="487.4" stroke="#3a3a3a" stroke-width="1"/><line x1="1189.2" y1="509.9" x2="1189.2" y2="524.3" stroke="#3a3a3a" stroke-width="1"/><rect x="1184.9" y="495.3" width="8.6" height="14.6" fill="#2ca37b" stroke="#3a3a3a" stroke-width="1"/><line x1="1184.9" y1="501.0" x2="1193.5" y2="501.0" stroke="#3a3a3a" stroke-width="2.2"/>
<rect x="1218.8" y="391.0" width="8.4" height="4.3" fill="#4daee3" stroke="#3a3a3a" stroke-width="1"/><line x1="1218.8" y1="392.6" x2="1227.2" y2="392.6" stroke="#3a3a3a" stroke-width="1.6"/>
<circle cx="1223.0" cy="401.6" r="2.2" fill="#2b2b2b"/>
<line x1="1227.2" y1="390.3" x2="1235.6" y2="390.3" stroke="#5a4a36" stroke-width="2.6"/>
<line x1="1240.2" y1="474.5" x2="1240.2" y2="466.4" stroke="#3a3a3a" stroke-width="1"/><rect x="1236.1" y="474.5" width="8.2" height="9.6" fill="#2ca37b" stroke="#3a3a3a" stroke-width="1"/><line x1="1236.1" y1="477.1" x2="1244.3" y2="477.1" stroke="#3a3a3a" stroke-width="2.2"/>
<circle cx="1239.9" cy="504.9" r="2.2" fill="#2b2b2b"/>
<rect x="1005.3" y="385.6" width="90.8" height="95.9" fill="#fff" stroke="#000" stroke-width="1.3"/>
<line x1="1023.8" y1="391.1" x2="1023.8" y2="415.3" stroke="#4a4a4a" stroke-width="1"/><rect x="1011.4" y="395.4" width="24.6" height="15.4" fill="#4daee3" stroke="#4a4a4a" stroke-width="1"/><line x1="1011.4" y1="403.1" x2="1036" y2="403.1" stroke="#4a4a4a" stroke-width="1"/><text x="1048.8" y="407.9" font-size="14">ENET</text>
<line x1="1023.8" y1="422.2" x2="1023.8" y2="446.2" stroke="#4a4a4a" stroke-width="1"/><rect x="1011.4" y="426.5" width="24.6" height="15.2" fill="#e59c2c" stroke="#4a4a4a" stroke-width="1"/><line x1="1011.4" y1="434.1" x2="1036" y2="434.1" stroke="#4a4a4a" stroke-width="1"/><text x="1048.8" y="439" font-size="14">NODE</text>
<line x1="1023.8" y1="453.1" x2="1023.8" y2="477.1" stroke="#4a4a4a" stroke-width="1"/><rect x="1011.4" y="457.4" width="24.6" height="15.2" fill="#2ca37b" stroke="#4a4a4a" stroke-width="1"/><line x1="1011.4" y1="465.0" x2="1036" y2="465.0" stroke="#4a4a4a" stroke-width="1"/><text x="1048.8" y="469.7" font-size="14">RF</text>
<text x="1174.8" y="625.3" class="ser" font-style="italic" font-size="24.4" fill="#2a2a2a">C</text><path d="M1199.8,615.7 h15 M1199.8,620.5 h15" stroke="#333" stroke-width="1.1" fill="none"/><text x="1222.4" y="625.2" class="ser" font-size="22.6" fill="#2a2a2a">0.3</text>
</g>
</svg>
</body>
</html>
